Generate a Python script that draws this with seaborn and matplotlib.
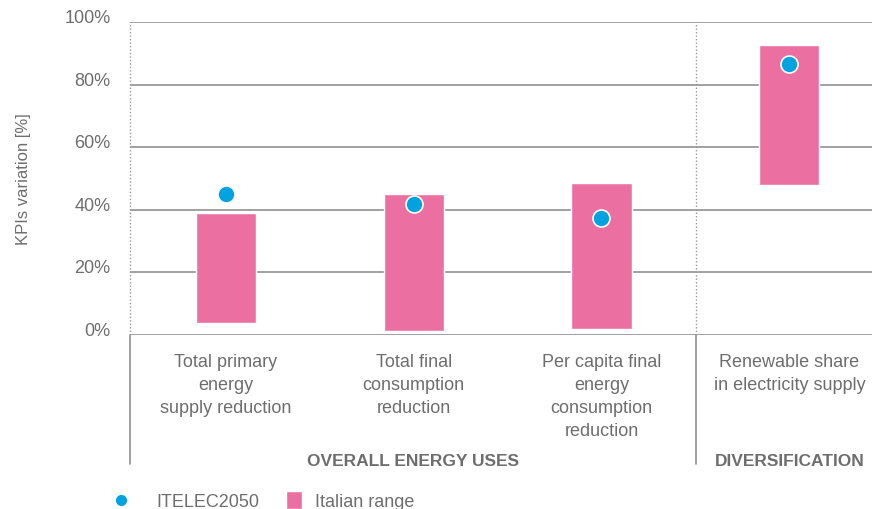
import numpy as np
import pandas as pd
import seaborn as sns
import matplotlib.pyplot as plt
import matplotlib.transforms as mtransforms
from matplotlib.lines import Line2D
from matplotlib.patches import Patch

# --- data ---
kpis = ["Total primary\nenergy\nsupply reduction",
        "Total final\nconsumption\nreduction",
        "Per capita final\nenergy\nconsumption\nreduction",
        "Renewable share\nin electricity supply"]
range_low = [3.9, 1.4, 1.8, 47.8]
range_high = [39.0, 45.0, 48.5, 92.8]
itelec2050 = [45.0, 42.0, 37.5, 86.5]
groups = ["OVERALL ENERGY USES", "DIVERSIFICATION"]

PINK = "#ec6fa2"
CYAN = "#00a3e0"
GREY = "#6e6e6e"
LINE = "#9a9a9a"

sns.set_theme(style="white")
plt.rcParams["font.family"] = ["Liberation Sans", "DejaVu Sans"]

df = pd.DataFrame({"KPI": kpis, "low": range_low, "high": range_high,
                   "ITELEC2050": itelec2050})
df["span"] = df["high"] - df["low"]

fig = plt.figure(figsize=(8.72, 5.10), dpi=100)
ax = fig.add_axes([130 / 872, 1 - 336 / 510, 1 - 130 / 872, (336 - 23) / 510])

sns.barplot(data=df, x="KPI", y="span", bottom=df["low"].values, color=PINK,
            width=0.32, saturation=1, ax=ax, zorder=2)
sns.scatterplot(data=df, x="KPI", y="ITELEC2050", color=CYAN, s=150,
                edgecolor="white", linewidth=1.2, ax=ax, zorder=3)

ax.set_xlim(-0.51, 3.44)
ax.set_ylim(0, 100)
for s in ax.spines.values():
    s.set_visible(False)

yt = [0, 20, 40, 60, 80, 100]
ax.set_yticks(yt)
ax.set_yticklabels([f"{v}%" for v in yt], fontsize=13, color=GREY, va="baseline")
for v in yt:
    ax.axhline(v, color=LINE, lw=1.3, zorder=1)
ax.tick_params(axis="y", length=0, pad=14)
ax.tick_params(axis="x", length=0, pad=13)
ax.set_xticks(range(len(kpis)))
ax.set_xticklabels(kpis, fontsize=13, color=GREY, linespacing=1.45, va="top")
ax.set_xlabel("")
ax.set_ylabel("KPIs variation [%]", fontsize=12, color=GREY)
ax.yaxis.set_label_coords(-0.133, 0.5)

# dotted separators inside the plot, solid below it
sep = 2.505
blend = mtransforms.blended_transform_factory(ax.transData, ax.transAxes)
ax.plot([-0.51, -0.51], [0, 1], transform=blend, color=LINE, lw=1, ls=(0, (1, 1.5)), clip_on=False)
ax.plot([sep, sep], [0, 1], transform=blend, color=LINE, lw=1, ls=(0, (1, 1.5)), clip_on=False)
below = -(465 - 336) / 313
ax.plot([-0.51, -0.51], [0, below], transform=blend, color=LINE, lw=1.3, clip_on=False)
ax.plot([sep, sep], [0, below], transform=blend, color=LINE, lw=1.3, clip_on=False)

ax.text((-0.51 + sep) / 2, below + 0.01, groups[0], transform=blend, ha="center",
        va="center", fontsize=12.5, fontweight="bold", color=GREY)
ax.text(3.0, below + 0.01, groups[1], transform=blend, ha="center",
        va="center", fontsize=12.5, fontweight="bold", color=GREY)

# legend: two pieces so each can have its own spacing
leg_dot = fig.legend(handles=[Line2D([], [], marker="o", ls="", color=CYAN, markersize=7,
                                     label="ITELEC2050")],
                     loc="lower left", bbox_to_anchor=(0.1097, -0.034), frameon=False,
                     fontsize=13, labelcolor=GREY, handlelength=1.0, handletextpad=1.45)
fig.legend(handles=[Patch(facecolor=PINK, label="Italian range")],
           loc="lower left", bbox_to_anchor=(0.3096, -0.034), frameon=False,
           fontsize=13, labelcolor=GREY, handlelength=0.9, handleheight=1.2,
           handletextpad=0.67)

fig.savefig("out.png", dpi=100)
